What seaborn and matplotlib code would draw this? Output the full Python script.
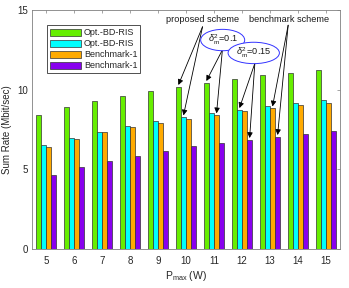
import numpy as np
import pandas as pd
import matplotlib
matplotlib.use("Agg")
import matplotlib.pyplot as plt
import seaborn as sns

# ── Data ──────────────────────────────────────────────────────────────────────

P_MAX = [5, 6, 7, 8, 9, 10, 11, 12, 13, 14, 15]
SERIES_LABELS = ["Opt.-BD-RIS", "Opt.-BD-RIS", "Benchmark-1", "Benchmark-1"]

rate_prop_01 = [8.42, 8.92, 9.27, 9.62, 9.92, 10.2, 10.45, 10.66, 10.9, 11.08, 11.26]
rate_prop_015 = [6.52, 6.98, 7.38, 7.72, 8.02, 8.29, 8.54, 8.75, 8.98, 9.17, 9.36]
rate_bench_01 = [6.38, 6.9, 7.32, 7.66, 7.93, 8.19, 8.42, 8.65, 8.85, 9.04, 9.2]
rate_bench_015 = [4.62, 5.14, 5.54, 5.87, 6.17, 6.44, 6.66, 6.87, 7.06, 7.24, 7.42]

COLORS = ["#66ee00", "#00ffff", "#ffaa00", "#8800ee"]

# ── Plot ──────────────────────────────────────────────────────────────────────

sns.set_style("white")
plt.rcParams["font.family"] = ["Liberation Sans", "DejaVu Sans"]
plt.rcParams["mathtext.fontset"] = "custom"
plt.rcParams["mathtext.rm"] = "Liberation Sans"
plt.rcParams["mathtext.it"] = "Liberation Sans:italic"

series = [rate_prop_01, rate_prop_015, rate_bench_01, rate_bench_015]
keys = [f"s{i}" for i in range(len(series))]
df = pd.DataFrame({
    "pmax": [str(p) for _ in series for p in P_MAX],
    "rate": [v for s in series for v in s],
    "key": [k for k, s in zip(keys, series) for _ in s],
})

GROUP_W = 0.727

fig = plt.figure(figsize=(3.49, 2.88), dpi=100)
ax = fig.add_axes([0.092, 0.135, 0.882, 0.83])
sns.barplot(data=df, x="pmax", y="rate", hue="key", hue_order=keys,
            palette=COLORS, saturation=1, width=GROUP_W, gap=0, errorbar=None,
            edgecolor="#333333", linewidth=0.5, ax=ax)

ax.set_xlim(-0.5, len(P_MAX) - 0.5)
ax.set_ylim(0, 15)
ax.set_yticks([0, 5, 10, 15])
ax.set_xlabel(r"P$_{\rm max}$ (W)", fontsize=7.5, color="#262626", labelpad=2)
ax.set_ylabel("Sum Rate (Mbit/sec)", fontsize=7, color="#262626", labelpad=4)
ax.tick_params(axis="both", direction="in", length=2.5, width=0.5,
               colors="#808080", labelcolor="#262626", labelsize=7,
               top=True, right=True)
ax.tick_params(axis="x", pad=5)
ax.tick_params(axis="y", pad=3)
for sp in ax.spines.values():
    sp.set_color("#808080")
    sp.set_linewidth(0.6)

handles, _ = ax.get_legend_handles_labels()
ax.legend(handles, SERIES_LABELS, loc="upper left", bbox_to_anchor=(0.049, 0.937),
          borderaxespad=0, fontsize=6.5, frameon=True, fancybox=False,
          edgecolor="#333333", framealpha=1, handlelength=3.4, handleheight=0.85,
          handletextpad=0.3, labelspacing=0.22, borderpad=0.35)
ax.get_legend().get_frame().set_linewidth(0.6)

# ── Annotations ───────────────────────────────────────────────────────────────

offsets = (np.arange(len(series)) - 1.5) * GROUP_W / len(series)


def bar_top(s, p):
    i = P_MAX.index(p)
    return (i + offsets[s], series[s][i] + 0.1)


arrow = dict(arrowstyle="-|>", color="black", lw=0.6, mutation_scale=8,
             shrinkA=0, shrinkB=0)

notes = [
    ("proposed scheme", (5.60, 14.44), (5.59, 13.95), [(0, 10), (1, 10)], None),
    ("benchmark scheme", (8.67, 14.44), (8.65, 14.05), [(2, 13), (3, 13)], None),
    (r"$\delta^2_{\rm m}$=0.1", (6.31, 13.12), (6.30, 12.5), [(0, 11), (2, 11)], "ellipse"),
    (r"$\delta^2_{\rm m}$=0.15", (7.42, 12.31), (7.46, 11.66), [(1, 12), (3, 12)], "ellipse"),
]
for text, pos, tail, targets, box in notes:
    bbox = None
    if box:
        bbox = dict(boxstyle="ellipse,pad=0.05", fc="white", ec="#3333ff", lw=0.7)
    ax.text(pos[0], pos[1], text, ha="center", va="center", fontsize=6.6,
            color="#1a1a1a", bbox=bbox, zorder=5)
    for s, p in targets:
        ax.annotate("", xy=bar_top(s, p), xytext=tail, arrowprops=arrow, zorder=4)

fig.savefig("out.png", dpi=100)
